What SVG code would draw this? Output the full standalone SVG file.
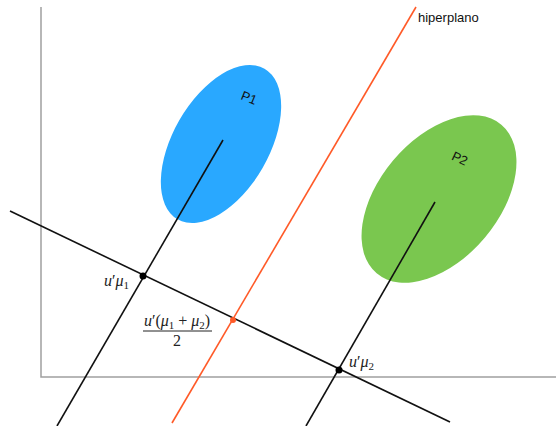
<svg xmlns="http://www.w3.org/2000/svg" width="558" height="426" viewBox="0 0 558 426">
<style>
.axis{stroke:#a0a0a0;stroke-width:1.5;fill:none}
.ln{stroke:#111;stroke-width:1.6;fill:none}
.hp{stroke:#ff5a28;stroke-width:1.6;fill:none}
.lbl{font-family:"Liberation Sans",Arial,sans-serif;font-size:13px;fill:#111}
.m{font-family:"Liberation Serif","DejaVu Serif",serif;font-size:16px;fill:#222}
.mi{font-style:italic}
.sub{font-size:11px}
</style>
<rect width="558" height="426" fill="#fff"/>
<g id="axes">
<polyline class="axis" points="41,7 41,377 556,377"/>
</g>
<g id="P1">
<ellipse cx="221" cy="144" rx="87" ry="48" transform="rotate(-60 221 144)" fill="#29a8ff"/>
<text class="lbl" x="241" y="102" font-size="14" transform="rotate(22 248 98)">P1</text>
</g>
<g id="P2">
<ellipse cx="439" cy="199" rx="97" ry="60" transform="rotate(-50 439 199)" fill="#7ac74f"/>
<text class="lbl" x="452" y="163" font-size="14" transform="rotate(25 460 158)">P2</text>
</g>
<g id="connectors">
<line class="ln" x1="10" y1="211" x2="450" y2="422"/>
<line class="ln" x1="223" y1="140" x2="57" y2="426"/>
<line class="ln" x1="435" y1="202" x2="306" y2="426"/>
<line class="hp" x1="416" y1="7" x2="172" y2="423"/>
</g>
<g id="hiperplano">
<text class="lbl" x="418" y="22">hiperplano</text>
</g>
<g id="mu1">
<circle cx="143" cy="276" r="3.5" fill="#000"/>
<text class="m" x="104" y="286"><tspan class="mi">u</tspan>′<tspan class="mi">μ</tspan><tspan class="sub" dy="3">1</tspan></text>
</g>
<g id="mid">
<circle cx="233" cy="320" r="3" fill="#ff5a28"/>
<text class="m" x="177" y="326" text-anchor="middle"><tspan class="mi">u</tspan>′(<tspan class="mi">μ</tspan><tspan class="sub" dy="3">1</tspan><tspan dy="-3"> + </tspan><tspan class="mi">μ</tspan><tspan class="sub" dy="3">2</tspan><tspan dy="-3">)</tspan></text>
<line x1="143" y1="331" x2="212" y2="331" stroke="#222" stroke-width="1"/>
<text class="m" x="177" y="346" text-anchor="middle">2</text>
</g>
<g id="mu2">
<circle cx="339" cy="370" r="3.5" fill="#000"/>
<text class="m" x="349" y="367"><tspan class="mi">u</tspan>′<tspan class="mi">μ</tspan><tspan class="sub" dy="3">2</tspan></text>
</g>
</svg>
